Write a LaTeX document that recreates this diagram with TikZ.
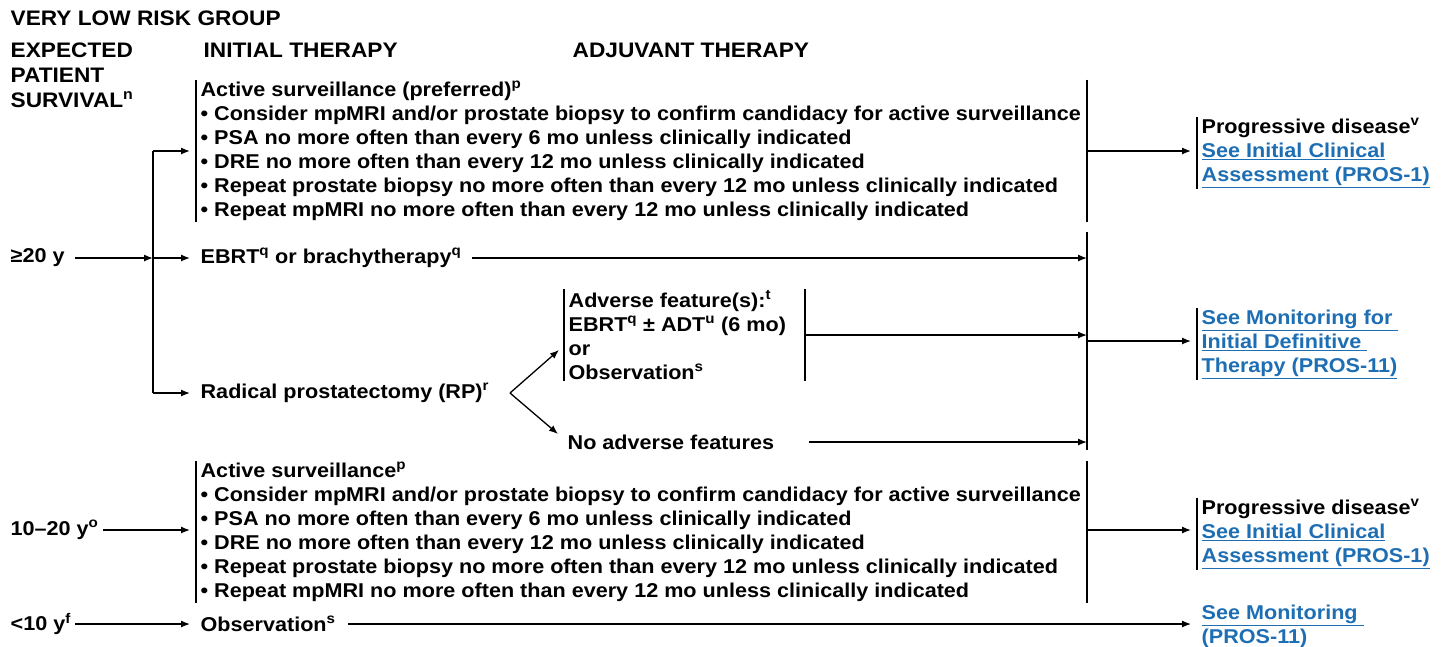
\documentclass[tikz,border=0pt]{standalone}
\usepackage{fontspec}
\setmainfont[FakeStretch=1.08]{Liberation Sans}
\usetikzlibrary{arrows.meta}
\definecolor{linkblue}{RGB}{30,110,180}
\newcommand{\lnk}[1]{\textcolor{linkblue}{\underline{#1}}}
\tikzset{
  txt/.style={anchor=west,inner xsep=4pt,inner ysep=1pt,align=left,
    font=\bfseries\fontsize{20}{24}\selectfont},
  head/.style={txt,font=\bfseries\fontsize{21}{25}\selectfont},
  arr/.style={-{Latex[length=9pt,width=7pt]}},
  arrin/.style={arr,shorten >=6pt},
}
\begin{document}
\begin{tikzpicture}[x=1pt,y=-1pt,line width=1.3pt]
\useasboundingbox (0,0) rectangle (1447,646);

% headings
\node[head] (title) at (6,18) {VERY LOW RISK GROUP};
\node[head] (hsurv) at (6,75) {EXPECTED\\PATIENT\\SURVIVAL\textsuperscript{n}};
\node[head] (hinit) at (199,50) {INITIAL THERAPY};
\node[head] (hadj) at (568,50) {ADJUVANT THERAPY};

% expected survival
\node[txt] (s20) at (6,258) {≥20 y};
\node[txt] (s1020) at (6,530) {10–20 y\textsuperscript{o}};
\node[txt] (s10) at (6,624) {<10 y\textsuperscript{f}};

% initial therapy
\node[txt] (as1) at (196,151) {Active surveillance (preferred)\textsuperscript{p}\\
  • Consider mpMRI and/or prostate biopsy to confirm candidacy for active surveillance\\
  • PSA no more often than every 6 mo unless clinically indicated\\
  • DRE no more often than every 12 mo unless clinically indicated\\
  • Repeat prostate biopsy no more often than every 12 mo unless clinically indicated\\
  • Repeat mpMRI no more often than every 12 mo unless clinically indicated};
\node[txt] (ebrt) at (196,258) {EBRT\textsuperscript{q} or brachytherapy\textsuperscript{q}};
\node[txt] (rp) at (196,393) {Radical prostatectomy (RP)\textsuperscript{r}};
\node[txt] (as2) at (196,532) {Active surveillance\textsuperscript{p}\\
  • Consider mpMRI and/or prostate biopsy to confirm candidacy for active surveillance\\
  • PSA no more often than every 6 mo unless clinically indicated\\
  • DRE no more often than every 12 mo unless clinically indicated\\
  • Repeat prostate biopsy no more often than every 12 mo unless clinically indicated\\
  • Repeat mpMRI no more often than every 12 mo unless clinically indicated};
\node[txt] (obs) at (196,624) {Observation\textsuperscript{s}};

% adjuvant therapy
\node[txt] (adv) at (564,335) {Adverse feature(s):\textsuperscript{t}\\
  EBRT\textsuperscript{q} ± ADT\textsuperscript{u} (6 mo)\\or\\Observation\textsuperscript{s}};
\node[txt] (noadv) at (563,442) {No adverse features};

% follow-up
\node[txt] (pd1) at (1197,153) {Progressive disease\textsuperscript{v}\\
  \lnk{See Initial Clinical}\\\lnk{Assessment (PROS-1)}};
\node[txt] (mon1) at (1197,344) {\lnk{See Monitoring for\ }\\
  \lnk{Initial Definitive\ }\\\lnk{Therapy (PROS-11)}};
\node[txt] (pd2) at (1197,534) {Progressive disease\textsuperscript{v}\\
  \lnk{See Initial Clinical}\\\lnk{Assessment (PROS-1)}};
\node[txt] (mon2) at (1197,627) {\lnk{See Monitoring\ }\\\lnk{(PROS-11)}};

\coordinate (jx) at (153,0);
\coordinate (ax) at (805,0);
\coordinate (cx) at (1087,0);
\coordinate (fk) at (510,393);
\coordinate (fkup) at (559,350);
\coordinate (fkdn) at (558,434);
\coordinate (b2t) at (1087,232);
\coordinate (b2b) at (1087,450);
\coordinate (m1y) at (1087,341);

% side bars
\foreach \n in {as1,as2,adv,pd1,mon1,pd2}
  \draw (\n.north west) -- (\n.south west);
\draw (as1.north -| cx) -- (as1.south -| cx);
\draw (as2.north -| cx) -- (as2.south -| cx);
\draw (adv.north -| ax) -- (adv.south -| ax);
\draw (b2t) -- (b2b);

% >=20 y
\draw[arr,shorten <=6pt] (s20.east) -- (s20.east -| jx);
\draw (as1.west -| jx) -- (rp.west -| jx);
\draw[arrin] (as1.west -| jx) -- (as1.west);
\draw[arrin] (ebrt.west -| jx) -- (ebrt.west);
\draw[arrin] (rp.west -| jx) -- (rp.west);
\draw[arrin] (as1.west -| cx) -- (as1.west -| pd1.west);
\draw[arr,shorten <=6pt] (ebrt.east) -- (ebrt.east -| cx);
\draw[arr] (fk) -- (fkup);
\draw[arr] (fk) -- (fkdn);
\draw[arr] (adv.west -| ax) -- (adv.west -| cx);
\draw[arr,shorten <=30pt] (noadv.east) -- (noadv.east -| cx);
\draw[arrin] (m1y) -- (m1y -| mon1.west);

% 10-20 y and <10 y
\draw[arrin] (s1020.east) -- (s1020.east -| as2.west);
\draw[arrin] (s1020.east -| cx) -- (s1020.east -| pd2.west);
\draw[arrin] (s10.east) -- (obs.west);
\draw[arrin,shorten <=8pt] (obs.east) -- (obs.east -| mon2.west);
\end{tikzpicture}
\end{document}
